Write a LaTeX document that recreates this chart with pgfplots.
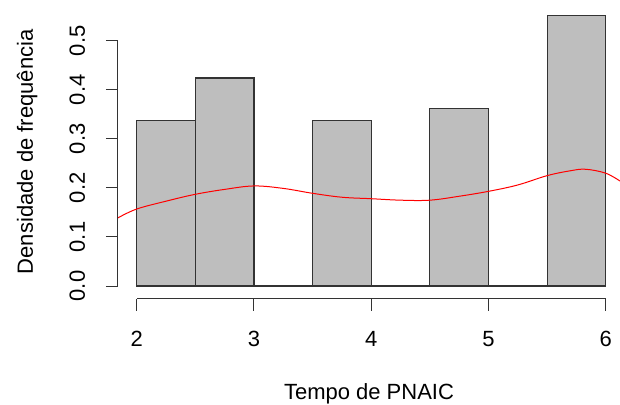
\documentclass[border=0pt]{standalone}
\usepackage{pgfplots}
\pgfplotsset{compat=1.18}
\usepackage{fontspec}
\setmainfont{Liberation Sans}
\definecolor{bargray}{HTML}{BEBEBE}
\definecolor{axgray}{HTML}{333333}
\begin{document}
\fontsize{22bp}{26bp}\selectfont
\begin{tikzpicture}
\begin{axis}[
  at={(0,0)}, anchor=south west,
  scale only axis,
  width=502bp, height=293.9bp,
  xmin=1.84, xmax=6.122,
  ymin=-0.026, ymax=0.573,
  clip=false,
  axis lines*=left,
  axis line style={draw=none},
  tick align=outside,
  major tick length=12bp,
  tick style={axgray, line width=1bp},
  xtick={2,3,4,5,6},
  ytick={0,0.1,0.2,0.3,0.4,0.5},
  /pgf/number format/assume math mode=true,
  xticklabel style={anchor=base, inner sep=0pt, yshift=-36bp},
  yticklabel style={xshift=-21bp, rotate=90, anchor=base, inner sep=0pt,
    /pgf/number format/.cd, fixed, fixed zerofill, precision=1},
  ticklabel style={font=\fontsize{22bp}{26bp}\selectfont},
]
\addplot[ybar interval, fill=bargray, draw=axgray, line width=1.1bp]
  coordinates {(2,0.337) (2.5,0.424) (3,0) (3.5,0.337) (4,0) (4.5,0.361) (5,0) (5.5,0.551) (6,0.551)};
\addplot[red, line width=1bp, smooth, tension=0.6] coordinates {
 (1.84,0.139) (2.0,0.157) (2.25,0.173) (2.5,0.187) (2.75,0.197) (3.0,0.204)
 (3.25,0.199) (3.5,0.189) (3.75,0.181) (4.0,0.178) (4.25,0.175) (4.5,0.175)
 (4.75,0.183) (5.0,0.193) (5.25,0.206) (5.5,0.225) (5.7,0.235) (5.83,0.238)
 (6.0,0.230) (6.122,0.214)};
\draw[axgray, line width=1bp] (axis cs:2,-0.026) -- (axis cs:6,-0.026);
\draw[axgray, line width=1bp] (axis cs:1.84,0) -- (axis cs:1.84,0.5);
\node[anchor=base, inner sep=0pt] at ([yshift=-100.5bp]axis description cs:0.5,0) {Tempo de PNAIC};
\node[anchor=base, inner sep=0pt, rotate=90] at ([xshift=-85bp]axis description cs:0,0.5) {Densidade de frequência};
\end{axis}
\pgfresetboundingbox
\path[use as bounding box] (-118bp,-106.2bp) rectangle (502bp,298.8bp);
\end{tikzpicture}
\end{document}
